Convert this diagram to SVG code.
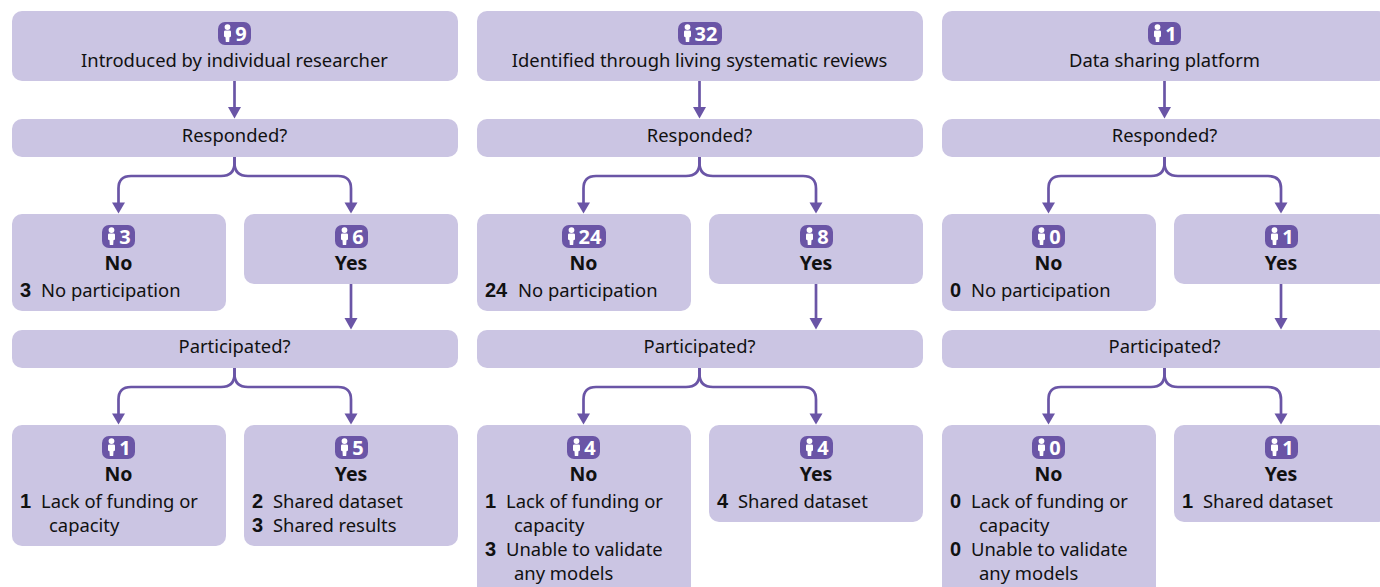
<svg xmlns="http://www.w3.org/2000/svg" width="1380" height="587" viewBox="0 0 1380 587">
<style>
.b{fill:#cbc5e3}
.p{fill:#6a55a6}
text{font-family:"Noto Sans","Open Sans","Liberation Sans",sans-serif;font-size:18.4px;fill:#111}
.c{text-anchor:middle}
.h{font-weight:700;font-size:19.5px}
.n{font-family:"Liberation Sans","Noto Sans",sans-serif;font-weight:700;font-size:20px}
.w{fill:#fff;font-weight:700;font-size:20px}
.l{fill:none;stroke:#6a55a6;stroke-width:2.7}
</style>
<defs>
<g id="person"><circle cx="0" cy="-6.400" r="2.900" fill="#fff"/><path d="M-3.500-1.800Q-3.500-3.100-2.200-3.100H2.200Q3.500-3.100 3.500-1.800V3L2 3.800L1.700 8.600H-1.700L-2 3.800L-3.500 3Z" fill="#fff"/></g>
<g id="flow">
<path class="l" d="M234.500 81V108"/>
<path class="l" d="M234.500 157V163Q234.500 176 221 176H131Q118.500 176 118.500 188.500V203"/>
<path class="l" d="M234.500 157V163Q234.500 176 248 176H338Q351 176 351 188.500V203"/>
<path class="l" d="M351 284V319"/>
<path class="l" d="M234.500 368V374Q234.500 387 221 387H131Q118.500 387 118.500 399.500V414"/>
<path class="l" d="M234.500 368V374Q234.500 387 248 387H338Q351 387 351 399.500V414"/>
<g class="p"><path d="M228 107H241L234.500 118.500Z"/><path d="M112 202.500H125L118.500 213.500Z"/><path d="M344.500 202.500H357.500L351 213.500Z"/><path d="M344.500 318H357.500L351 329.500Z"/><path d="M112 413.500H125L118.500 424.500Z"/><path d="M344.500 413.500H357.500L351 424.500Z"/></g>
</g>
</defs>
<g id="connectors">
<use href="#flow"/>
<use href="#flow" x="465"/>
<use href="#flow" x="930"/>
</g>
<g id="a-top"><rect class="b" x="12" y="11" width="446" height="70" rx="10"/><rect class="p" x="218" y="22" width="33" height="23" rx="7"/><use href="#person" x="227.500" y="33.500"/><text class="w c" x="241" y="40.500">9</text><text class="c" x="234.500" y="66.500">Introduced by individual researcher</text></g>
<g id="a-resp"><rect class="b" x="12" y="119" width="446" height="38" rx="10"/><text class="c" x="234.500" y="141.500">Responded?</text></g>
<g id="a-no"><rect class="b" x="12" y="214" width="214" height="97" rx="10"/><rect class="p" x="102" y="225" width="33" height="23" rx="7"/><use href="#person" x="111.500" y="236.500"/><text class="w c" x="125" y="243.500">3</text><text class="h c" x="118.500" y="269.500">No</text><text class="n" x="20" y="296.500">3</text><text x="41" y="296.500">No participation</text></g>
<g id="a-yes"><rect class="b" x="244" y="214" width="214" height="70" rx="10"/><rect class="p" x="335" y="225" width="33" height="23" rx="7"/><use href="#person" x="344.500" y="236.500"/><text class="w c" x="358" y="243.500">6</text><text class="h c" x="351" y="269.500">Yes</text></g>
<g id="a-part"><rect class="b" x="12" y="330" width="446" height="38" rx="10"/><text class="c" x="234.500" y="352.500">Participated?</text></g>
<g id="a-no2"><rect class="b" x="12" y="425" width="214" height="121" rx="10"/><rect class="p" x="102" y="436" width="33" height="23" rx="7"/><use href="#person" x="111.500" y="447.500"/><text class="w c" x="125" y="454.500">1</text><text class="h c" x="118.500" y="480.500">No</text><text class="n" x="20" y="507.500">1</text><text x="41" y="507.500">Lack of funding or</text><text x="49" y="531.500">capacity</text></g>
<g id="a-yes2"><rect class="b" x="244" y="425" width="214" height="121" rx="10"/><rect class="p" x="335" y="436" width="33" height="23" rx="7"/><use href="#person" x="344.500" y="447.500"/><text class="w c" x="358" y="454.500">5</text><text class="h c" x="351" y="480.500">Yes</text><text class="n" x="252" y="507.500">2</text><text x="273" y="507.500">Shared dataset</text><text class="n" x="252" y="531.500">3</text><text x="273" y="531.500">Shared results</text></g>

<g id="b-top"><rect class="b" x="477" y="11" width="446" height="70" rx="10"/><rect class="p" x="678" y="22" width="44" height="23" rx="7"/><use href="#person" x="687.500" y="33.500"/><text class="w c" x="706" y="40.500">32</text><text class="c" x="699.500" y="66.500">Identified through living systematic reviews</text></g>
<g id="b-resp"><rect class="b" x="477" y="119" width="446" height="38" rx="10"/><text class="c" x="699.500" y="141.500">Responded?</text></g>
<g id="b-no"><rect class="b" x="477" y="214" width="214" height="97" rx="10"/><rect class="p" x="562" y="225" width="44" height="23" rx="7"/><use href="#person" x="571.500" y="236.500"/><text class="w c" x="590" y="243.500">24</text><text class="h c" x="583.500" y="269.500">No</text><text class="n" x="485" y="296.500">24</text><text x="518" y="296.500">No participation</text></g>
<g id="b-yes"><rect class="b" x="709" y="214" width="214" height="70" rx="10"/><rect class="p" x="800" y="225" width="33" height="23" rx="7"/><use href="#person" x="809.500" y="236.500"/><text class="w c" x="823" y="243.500">8</text><text class="h c" x="816" y="269.500">Yes</text></g>
<g id="b-part"><rect class="b" x="477" y="330" width="446" height="38" rx="10"/><text class="c" x="699.500" y="352.500">Participated?</text></g>
<g id="b-no2"><rect class="b" x="477" y="425" width="214" height="172" rx="10"/><rect class="p" x="567" y="436" width="33" height="23" rx="7"/><use href="#person" x="576.500" y="447.500"/><text class="w c" x="590" y="454.500">4</text><text class="h c" x="583.500" y="480.500">No</text><text class="n" x="485" y="507.500">1</text><text x="506" y="507.500">Lack of funding or</text><text x="514" y="531.500">capacity</text><text class="n" x="485" y="555.500">3</text><text x="506" y="555.500">Unable to validate</text><text x="514" y="579.500">any models</text></g>
<g id="b-yes2"><rect class="b" x="709" y="425" width="214" height="97" rx="10"/><rect class="p" x="800" y="436" width="33" height="23" rx="7"/><use href="#person" x="809.500" y="447.500"/><text class="w c" x="823" y="454.500">4</text><text class="h c" x="816" y="480.500">Yes</text><text class="n" x="717" y="507.500">4</text><text x="738" y="507.500">Shared dataset</text></g>

<g id="c-top"><rect class="b" x="942" y="11" width="446" height="70" rx="10"/><rect class="p" x="1148" y="22" width="33" height="23" rx="7"/><use href="#person" x="1157.500" y="33.500"/><text class="w c" x="1171" y="40.500">1</text><text class="c" x="1164.500" y="66.500">Data sharing platform</text></g>
<g id="c-resp"><rect class="b" x="942" y="119" width="446" height="38" rx="10"/><text class="c" x="1164.500" y="141.500">Responded?</text></g>
<g id="c-no"><rect class="b" x="942" y="214" width="214" height="97" rx="10"/><rect class="p" x="1032" y="225" width="33" height="23" rx="7"/><use href="#person" x="1041.500" y="236.500"/><text class="w c" x="1055" y="243.500">0</text><text class="h c" x="1048.500" y="269.500">No</text><text class="n" x="950" y="296.500">0</text><text x="971" y="296.500">No participation</text></g>
<g id="c-yes"><rect class="b" x="1174" y="214" width="214" height="70" rx="10"/><rect class="p" x="1265" y="225" width="33" height="23" rx="7"/><use href="#person" x="1274.500" y="236.500"/><text class="w c" x="1288" y="243.500">1</text><text class="h c" x="1281" y="269.500">Yes</text></g>
<g id="c-part"><rect class="b" x="942" y="330" width="446" height="38" rx="10"/><text class="c" x="1164.500" y="352.500">Participated?</text></g>
<g id="c-no2"><rect class="b" x="942" y="425" width="214" height="172" rx="10"/><rect class="p" x="1032" y="436" width="33" height="23" rx="7"/><use href="#person" x="1041.500" y="447.500"/><text class="w c" x="1055" y="454.500">0</text><text class="h c" x="1048.500" y="480.500">No</text><text class="n" x="950" y="507.500">0</text><text x="971" y="507.500">Lack of funding or</text><text x="979" y="531.500">capacity</text><text class="n" x="950" y="555.500">0</text><text x="971" y="555.500">Unable to validate</text><text x="979" y="579.500">any models</text></g>
<g id="c-yes2"><rect class="b" x="1174" y="425" width="214" height="97" rx="10"/><rect class="p" x="1265" y="436" width="33" height="23" rx="7"/><use href="#person" x="1274.500" y="447.500"/><text class="w c" x="1288" y="454.500">1</text><text class="h c" x="1281" y="480.500">Yes</text><text class="n" x="1182" y="507.500">1</text><text x="1203" y="507.500">Shared dataset</text></g>
</svg>
